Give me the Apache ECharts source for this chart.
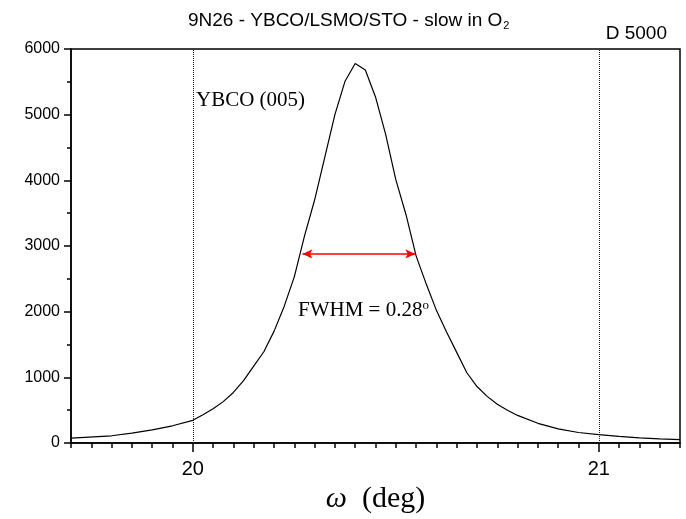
<!DOCTYPE html>
<html>
<head>
<meta charset="utf-8">
<script src="https://cdn.jsdelivr.net/npm/echarts@6/dist/echarts.min.js"></script>
<style>
  html, body { margin: 0; padding: 0; background: #fff; }
  #chart { width: 686px; height: 519px; }
</style>
</head>
<body>
<div id="chart"></div>
<script>
// omega (deg) and intensity
const omega = [19.70, 19.80, 19.85, 19.90, 19.95, 20.00, 20.025, 20.05, 20.075, 20.10,
    20.125, 20.15, 20.175, 20.20, 20.225, 20.25, 20.275, 20.30, 20.325, 20.35,
    20.375, 20.40, 20.425, 20.45, 20.475, 20.50, 20.525, 20.55, 20.575, 20.60,
    20.625, 20.65, 20.675, 20.70, 20.725, 20.75, 20.775, 20.80, 20.85, 20.90,
    20.95, 21.00, 21.05, 21.10, 21.15, 21.20];
const counts = [75, 110, 150, 200, 262, 345, 430, 520, 630, 770,
    950, 1170, 1390, 1700, 2080, 2530, 3150, 3700, 4350, 5000,
    5510, 5780, 5680, 5270, 4700, 4010, 3480, 2850, 2420, 2020,
    1690, 1380, 1070, 860, 710, 590, 500, 420, 300, 215,
    160, 128, 100, 78, 62, 52];

const xMajor = [20, 21];
const xMinor = [19.70, 19.75, 19.80, 19.85, 19.90, 19.95, 20.00, 20.05, 20.10, 20.15,
    20.20, 20.25, 20.30, 20.35, 20.40, 20.45, 20.50, 20.55, 20.60, 20.65,
    20.70, 20.75, 20.80, 20.85, 20.90, 20.95, 21.00, 21.05, 21.10, 21.15, 21.20];
const guideLines = [20, 21];
const fwhmLeft = 20.27, fwhmRight = 20.548, halfMax = 2880;

const chart = echarts.init(document.getElementById('chart'));

const sans = 'Arial, "Liberation Sans", sans-serif';
const serif = '"Times New Roman", "Liberation Serif", serif';

chart.setOption({
    animation: false,
    title: {
        left: 183,
        top: 5,
        text: '{a|9N26 - YBCO/LSMO/STO - slow in O}{s|2}',
        textStyle: {
            rich: {
                a: { fontFamily: sans, fontSize: 19, fontWeight: 'normal', color: '#000' },
                s: { fontFamily: sans, fontSize: 11, fontWeight: 'normal', color: '#000', padding: [10, 0, 0, 1] }
            }
        }
    },
    graphic: [
        { type: 'text', right: 19, top: 24,
          style: { text: 'D 5000', font: '19px ' + sans, fill: '#000' } },
        { type: 'text', left: 196, top: 90,
          style: { text: 'YBCO (005)', font: '21px ' + serif, fill: '#000' } },
        { type: 'text', left: 298, top: 299,
          style: { text: '{a|FWHM = 0.28}{o|o}', fill: '#000',
              rich: {
                  a: { font: '21px ' + serif },
                  o: { font: '13px ' + serif, padding: [0, 0, 10, 0] }
              } } }
    ],
    grid: {
        left: 71, right: 6, top: 49, bottom: 76,
        show: true, borderColor: '#000', borderWidth: 1.5,
        backgroundColor: 'transparent'
    },
    xAxis: [
        {
            type: 'value', min: 19.7, max: 21.2,
            axisLine: { lineStyle: { color: '#000', width: 1.5 } },
            axisTick: { show: true, customValues: xMinor, length: 5, lineStyle: { color: '#000', width: 1.5 } },
            axisLabel: { show: false },
            splitLine: { show: false }
        },
        {
            type: 'value', min: 19.7, max: 21.2, position: 'bottom',
            axisLine: { show: false },
            axisTick: { show: true, customValues: xMajor, length: 9, lineStyle: { color: '#000', width: 1.5 } },
            axisLabel: { customValues: xMajor, fontFamily: sans, fontSize: 20, color: '#000', margin: 16 },
            splitLine: { show: false },
            name: '{w|ω}{d|  (deg)}',
            nameLocation: 'middle',
            nameGap: 40,
            nameTextStyle: {
                rich: {
                    w: { fontFamily: serif, fontStyle: 'italic', fontSize: 30, color: '#000' },
                    d: { fontFamily: serif, fontSize: 30, color: '#000' }
                }
            }
        }
    ],
    yAxis: {
        type: 'value', min: 0, max: 6000, interval: 1000,
        axisLine: { show: true, lineStyle: { color: '#000', width: 1.5 } },
        axisTick: { show: true, length: 7, lineStyle: { color: '#000', width: 1.5 } },
        minorTick: { show: true, splitNumber: 2, length: 4, lineStyle: { color: '#000', width: 1.5 } },
        axisLabel: { fontFamily: sans, fontSize: 16, color: '#000', margin: 11, formatter: v => String(v) },
        splitLine: { show: false }
    },
    series: [
        {
            type: 'line',
            xAxisIndex: 0,
            data: omega.map((w, i) => [w, counts[i]]),
            showSymbol: false,
            lineStyle: { color: '#000', width: 1.2 },
            markLine: {
                silent: true,
                symbol: 'none',
                label: { show: false },
                lineStyle: { color: '#0000ff', width: 1, type: [1, 1] },
                data: guideLines.map(v => ({ xAxis: v }))
            }
        },
        {
            type: 'line',
            xAxisIndex: 0,
            data: [],
            markLine: {
                silent: true,
                symbol: ['arrow', 'arrow'],
                symbolSize: [7, 10],
                label: { show: false },
                lineStyle: { color: '#ff0000', width: 1.5, type: 'solid' },
                data: [[{ coord: [fwhmLeft, halfMax] }, { coord: [fwhmRight, halfMax] }]]
            }
        }
    ]
});
</script>
</body>
</html>
